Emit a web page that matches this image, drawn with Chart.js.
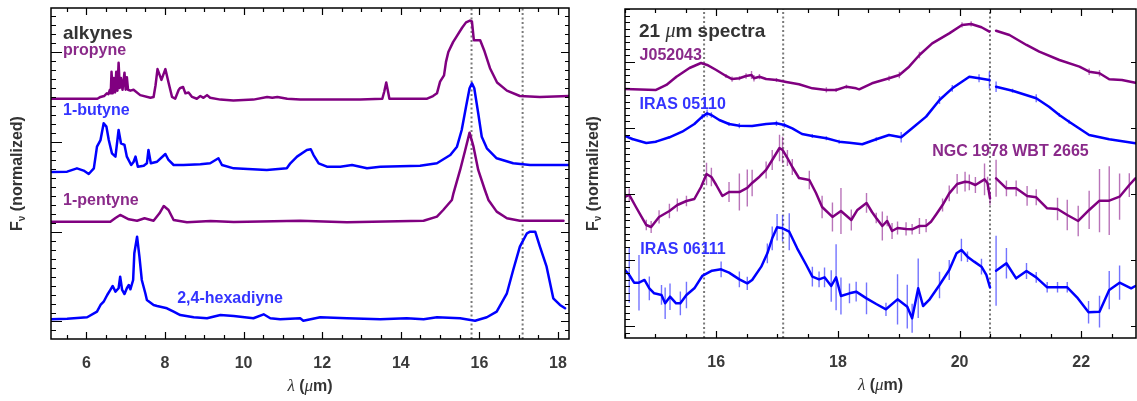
<!DOCTYPE html>
<html>
<head>
<meta charset="utf-8">
<script src="https://cdn.jsdelivr.net/npm/chart.js@4.4.1/dist/chart.umd.min.js"></script>
<style>
  body { margin: 0; background: #fff; }
  #wrap { position: relative; width: 1137px; height: 401px; overflow: hidden; }
  #wrap canvas { position: absolute; top: 0; }
</style>
</head>
<body>
<div id="wrap">
  <canvas id="alkynesChart" width="575" height="401" style="left:0"></canvas>
  <canvas id="spectraChart" width="562" height="401" style="left:575px"></canvas>
</div>
<script>
// ---- left panel: lab spectra, [wavelength um, normalized flux + offset]
const propyne = [[5.10,2.48],[6.28,2.48],[6.36,2.50],[6.45,2.51],[6.52,2.54],[6.56,2.53],[6.60,2.58],[6.62,2.54],
  [6.64,2.78],[6.67,2.54],[6.70,2.71],[6.73,2.55],[6.76,2.78],[6.79,2.57],[6.82,2.88],[6.85,2.60],[6.88,2.71],
  [6.92,2.58],[6.97,2.77],[7.00,2.58],[7.03,2.72],[7.06,2.58],[7.12,2.57],[7.20,2.58],[7.37,2.52],[7.63,2.49],
  [7.71,2.50],[7.76,2.63],[7.81,2.81],[7.91,2.69],[8.01,2.81],[8.09,2.66],[8.18,2.50],[8.26,2.48],[8.35,2.58],
  [8.39,2.60],[8.46,2.61],[8.52,2.54],[8.60,2.55],[8.69,2.50],[8.81,2.48],[8.90,2.51],[8.98,2.49],[9.07,2.52],
  [9.15,2.49],[9.41,2.47],[9.74,2.46],[10.25,2.47],[10.60,2.50],[10.73,2.49],[10.86,2.50],[11.11,2.48],[11.44,2.47],
  [12.20,2.47],[12.97,2.47],[13.53,2.48],[13.58,2.56],[13.63,2.66],[13.68,2.55],[13.71,2.48],[13.98,2.48],[14.67,2.48],
  [14.82,2.51],[14.92,2.54],[15.00,2.67],[15.10,2.74],[15.15,2.89],[15.21,3.00],[15.33,3.11],[15.43,3.18],[15.56,3.27],
  [15.66,3.33],[15.76,3.35],[15.81,3.34],[15.86,3.13],[16.02,3.13],[16.12,3.02],[16.27,2.82],[16.45,2.66],[16.70,2.57],
  [17.03,2.51],[17.54,2.50],[18.28,2.51]];

const butyne = [[5.10,1.664],[5.51,1.668],[5.76,1.705],[5.93,1.68],[6.06,1.642],[6.19,1.705],[6.27,1.946],[6.36,2.02],
  [6.44,2.206],[6.51,2.169],[6.57,2.02],[6.65,1.872],[6.74,1.835],[6.82,2.132],[6.88,1.984],[6.97,1.965],[7.03,1.835],
  [7.14,1.742],[7.20,1.776],[7.25,1.835],[7.31,1.723],[7.46,1.734],[7.54,1.761],[7.58,1.909],[7.64,1.761],[7.80,1.779],
  [8.01,1.865],[8.09,1.798],[8.22,1.742],[8.47,1.742],[8.90,1.75],[9.15,1.761],[9.36,1.817],[9.45,1.742],[9.75,1.705],
  [10.59,1.687],[11.10,1.705],[11.19,1.761],[11.36,1.835],[11.61,1.909],[11.71,1.917],[11.78,1.853],[11.91,1.761],
  [12.12,1.723],[12.46,1.723],[12.76,1.742],[13.14,1.705],[13.48,1.723],[14.49,1.734],[14.92,1.761],[15.26,1.853],
  [15.43,1.946],[15.55,2.132],[15.66,2.391],[15.75,2.596],[15.81,2.652],[15.87,2.596],[15.97,2.318],[16.06,2.057],
  [16.19,1.928],[16.44,1.817],[16.86,1.761],[17.29,1.742],[18.29,1.742]];

const pentyne = [[5.10,1.111],[6.61,1.111],[6.74,1.152],[6.86,1.186],[7.08,1.138],[7.29,1.122],[7.48,1.149],[7.71,1.122],
  [7.86,1.204],[7.97,1.286],[8.09,1.241],[8.22,1.13],[8.56,1.104],[9.16,1.119],[9.75,1.108],[11.44,1.122],[12.63,1.104],
  [14.58,1.122],[14.92,1.167],[15.08,1.241],[15.30,1.353],[15.34,1.427],[15.51,1.687],[15.64,1.909],[15.75,2.102],
  [15.85,1.946],[15.97,1.687],[16.14,1.464],[16.23,1.353],[16.44,1.223],[16.70,1.149],[17.03,1.122],[18.14,1.122]];

const hexadiyne = [[5.10,0.024],[5.51,0.031],[6.02,0.047],[6.27,0.109],[6.36,0.184],[6.44,0.22],[6.53,0.295],[6.61,0.351],
  [6.67,0.395],[6.74,0.332],[6.82,0.37],[6.86,0.499],[6.91,0.351],[6.97,0.306],[7.03,0.37],[7.08,0.406],[7.12,0.358],
  [7.19,0.462],[7.22,0.759],[7.29,0.944],[7.35,0.721],[7.41,0.462],[7.50,0.314],[7.54,0.239],[7.71,0.184],[7.80,0.173],
  [8.05,0.147],[8.22,0.109],[8.39,0.072],[8.73,0.047],[9.07,0.036],[9.41,0.072],[9.75,0.061],[10.25,0.036],[10.51,0.08],
  [10.68,0.036],[10.93,0.024],[11.44,0.036],[11.52,0.009],[11.95,0.047],[12.63,0.036],[13.48,0.024],[14.15,0.036],
  [14.58,0.024],[14.92,0.047],[15.51,0.036],[15.89,0.009],[16.19,0.047],[16.44,0.109],[16.70,0.314],[16.86,0.573],
  [17.03,0.833],[17.21,0.982],[17.29,1.0],[17.42,1.0],[17.54,0.833],[17.71,0.61],[17.88,0.258],[18.05,0.184],[18.18,0.147]];

// ---- right panel: observed spectra, [wavelength um, flux + offset, error]
const j052043 = [[14.50,3.591,0],[15.01,3.576,0],[15.18,3.652,0],[15.34,3.773,0.02],[15.56,3.909,0],[15.75,3.985,0],
  [15.85,3.955,0],[16.00,3.879,0],[16.16,3.788,0.03],[16.26,3.742,0.04],[16.38,3.753,0.03],[16.49,3.788,0.04],
  [16.58,3.803,0.06],[16.62,3.753,0.05],[16.71,3.777,0.04],[16.82,3.742,0],[16.99,3.727,0.03],[17.15,3.697,0],
  [17.36,3.662,0],[17.58,3.601,0],[17.81,3.576,0.04],[17.97,3.576,0.03],[18.14,3.626,0.03],[18.30,3.601,0],
  [18.35,3.586,0],[18.56,3.677,0],[18.84,3.753,0.04],[19.01,3.803,0.05],[19.17,3.929,0],[19.34,4.106,0.05],
  [19.55,4.283,0],[19.83,4.434,0],[20.04,4.561,0.04],[20.19,4.576,0.04],[20.36,4.526,0],[20.49,4.459,0],[20.55,null,0],
  [20.60,4.474,0],[20.82,4.409,0],[21.10,4.258,0],[21.31,4.156,0],[21.64,4.03,0],[21.97,3.929,0],[22.13,3.853,0.05],
  [22.30,3.829,0.05],[22.46,3.738,0],[22.67,3.727,0],[22.89,3.686,0]];

const iras05110 = [[14.50,2.879,0],[14.62,2.833,0.02],[14.85,2.773,0],[15.01,2.793,0.02],[15.23,2.859,0.02],[15.44,2.944,0],
  [15.64,3.061,0],[15.77,3.172,0.04],[15.85,3.222,0.06],[15.92,3.197,0.04],[16.05,3.121,0],[16.21,3.061,0.03],
  [16.38,3.035,0.04],[16.59,3.03,0],[16.82,3.061,0],[16.99,3.071,0.04],[17.12,3.045,0.04],[17.25,2.995,0],[17.41,2.909,0],
  [17.58,2.879,0.03],[17.81,2.844,0.03],[18.02,2.793,0.03],[18.19,2.778,0],[18.40,2.753,0],[18.63,2.829,0.03],
  [18.84,2.894,0],[19.04,2.859,0.08],[19.22,2.995,0],[19.45,3.172,0],[19.67,3.424,0.06],[19.88,3.601,0.05],
  [20.16,3.777,0],[20.32,3.753,0.06],[20.49,3.727,0.13],[20.55,null,0],[20.60,3.626,0.08],[20.87,3.565,0.03],
  [21.26,3.45,0.06],[21.47,3.323,0],[21.64,3.197,0.03],[21.80,3.095,0.03],[22.13,2.894,0],[22.46,2.829,0],[22.89,2.768,0]];

const ngc1978 = [[14.50,1.955,0.08],[14.57,1.985,0.1],[14.68,1.803,0],[14.85,1.53,0.08],[14.93,1.5,0.09],[15.06,1.652,0.1],
  [15.23,1.742,0.11],[15.36,1.833,0.1],[15.51,1.894,0.08],[15.64,1.924,0],[15.75,2.106,0],[15.84,2.303,0.17],
  [15.92,2.258,0.14],[16.00,2.136,0],[16.10,1.97,0],[16.21,2.03,0.15],[16.38,2.03,0.28],[16.51,2.091,0.28],
  [16.59,2.167,0.2],[16.71,2.262,0],[16.82,2.364,0.13],[16.92,2.515,0.15],[17.04,2.697,0.2],[17.09,2.667,0.2],
  [17.17,2.545,0.12],[17.25,2.409,0.12],[17.36,2.242,0],[17.53,2.212,0.14],[17.64,2.015,0],[17.74,1.803,0.17],
  [17.91,1.652,0.22],[18.05,1.742,0.35],[18.22,1.606,0.16],[18.32,1.758,0],[18.47,1.864,0.15],[18.56,1.727,0],
  [18.63,1.636,0.08],[18.73,1.515,0.22],[18.81,1.591,0.08],[18.89,1.439,0.12],[18.98,1.485,0.1],[19.12,1.47,0.1],
  [19.22,1.465,0.08],[19.34,1.515,0.12],[19.45,1.52,0.1],[19.53,1.58,0],[19.62,1.697,0],[19.72,1.833,0.1],
  [19.83,2.01,0.12],[19.96,2.152,0.15],[20.09,2.186,0.15],[20.16,2.177,0.12],[20.26,2.136,0.12],[20.41,2.222,0.24],
  [20.46,2.162,0.1],[20.50,1.935,0.1],[20.55,null,0],[20.60,2.237,0.28],[20.77,2.086,0.12],[20.93,2.086,0.12],
  [21.11,1.97,0.15],[21.26,1.95,0.12],[21.44,1.783,0],[21.61,1.773,0.17],[21.77,1.682,0.23],[21.95,1.591,0.23],
  [22.13,1.758,0.29],[22.30,1.899,0.48],[22.46,1.899,0.52],[22.63,1.959,0.35],[22.79,2.136,0.18],[22.89,2.237,0]];

const iras06111 = [[14.50,0.848,0],[14.57,0.773,0.42],[14.65,0.656,0],[14.73,0.656,0.42],[14.82,0.697,0],[14.90,0.571,0.18],
  [14.98,0.495,0],[15.10,0.47,0.15],[15.16,0.344,0.24],[15.24,0.444,0.2],[15.34,0.344,0],[15.41,0.344,0.18],
  [15.51,0.47,0.2],[15.64,0.571,0],[15.77,0.758,0],[15.93,0.838,0],[16.08,0.859,0.12],[16.21,0.808,0],[16.38,0.707,0.12],
  [16.51,0.646,0.1],[16.59,0.697,0],[16.74,0.899,0],[16.84,1.101,0.15],[16.92,1.328,0.18],[17.00,1.495,0.2],
  [17.09,1.48,0.2],[17.20,1.429,0.28],[17.33,1.177,0],[17.48,0.924,0],[17.58,0.747,0.15],[17.69,0.707,0.12],
  [17.78,0.737,0.15],[17.89,0.606,0.24],[17.97,0.737,0.5],[18.05,0.455,0.28],[18.19,0.495,0.15],[18.30,0.52,0.15],
  [18.47,0.419,0.24],[18.63,0.333,0],[18.79,0.253,0.1],[18.98,0.404,0.38],[19.14,0.293,0.33],[19.22,0.116,0.22],
  [19.32,0.571,0.45],[19.40,0.303,0],[19.50,0.394,0],[19.67,0.621,0.2],[19.83,0.848,0.15],[19.95,1.101,0],
  [20.03,1.152,0.17],[20.13,1.05,0.08],[20.24,0.975,0],[20.36,0.899,0.12],[20.44,0.773,0],[20.50,0.586,0],[20.55,null,0],
  [20.60,0.838,0.53],[20.77,0.95,0.23],[20.93,0.722,0],[21.10,0.833,0.12],[21.26,0.737,0.08],[21.44,0.586,0.08],
  [21.61,0.586,0.08],[21.77,0.586,0.08],[21.93,0.434,0],[22.12,0.207,0.17],[22.30,0.217,0.24],[22.46,0.545,0.29],
  [22.63,0.656,0.26],[22.82,0.571,0],[22.89,0.606,0]];

// names and axis labels
const leftNames = ['propyne', '1-butyne', '1-pentyne', '2,4-hexadiyne'];
const rightNames = ['J052043', 'IRAS 05110', 'NGC 1978 WBT 2665', 'IRAS 06111'];
const leftTickLabels = [6, 8, 10, 12, 14, 16, 18];
const rightTickLabels = [16, 18, 20, 22];
const leftMarkers = [15.8, 17.1];
const rightMarkers = [15.8, 17.1, 20.5];

const PURPLE = '#800080';
const BLUE = '#0000ff';
const PURPLE_TXT = '#8a2a8a';
const BLUE_TXT = '#3434ff';
const SANS = '"Liberation Sans", Arial, Helvetica, sans-serif';
const SERIF = '"Liberation Serif", "Times New Roman", serif';

function isMultiple(v, step) {
    return Math.abs(v / step - Math.round(v / step)) < 1e-6;
}

// draws a list of {t, font, dy} pieces one after another
function drawRich(ctx, segs, x, y, align) {
    let total = 0;
    segs.forEach((s) => { ctx.font = s.font; s.w = ctx.measureText(s.t).width; total += s.w; });
    let cx = align === 'center' ? x - total / 2 : x;
    ctx.textAlign = 'left';
    segs.forEach((s) => {
        ctx.font = s.font;
        ctx.fillText(s.t, cx, y + (s.dy || 0));
        cx += s.w;
    });
}

function lambdaTitle() {
    return [
        {t: 'λ', font: 'italic 17px ' + SERIF},
        {t: ' (', font: 'bold 16px ' + SANS},
        {t: 'μ', font: 'italic 17px ' + SERIF},
        {t: 'm)', font: 'bold 16px ' + SANS},
    ];
}

function fluxTitle() {
    return [
        {t: 'F', font: 'bold 16px ' + SANS},
        {t: 'ν', font: 'bold 10px ' + SANS, dy: 3},
        {t: ' (normalized)', font: 'bold 16px ' + SANS},
    ];
}

// frame, inward ticks, tick labels, axis titles and text notes
const framePlugin = {
    id: 'frame',
    afterDatasetsDraw(chart, args, o) {
        const ctx = chart.ctx;
        const a = chart.chartArea;
        const xs = chart.scales.x;
        const ys = chart.scales.y;
        ctx.save();
        ctx.strokeStyle = '#000';
        ctx.lineWidth = 1.2;
        ctx.beginPath();
        for (let i = Math.ceil(xs.min / o.xStep - 1e-6); i * o.xStep <= xs.max + 1e-6; i++) {
            const v = i * o.xStep;
            const px = Math.round(xs.getPixelForValue(v)) + 0.5;
            const len = isMultiple(v, o.xMajor) ? o.xMajorLen : o.xMinorLen;
            ctx.moveTo(px, a.bottom); ctx.lineTo(px, a.bottom - len);
            ctx.moveTo(px, a.top); ctx.lineTo(px, a.top + len);
        }
        for (let i = Math.ceil(ys.min / o.yStep - 1e-6); i * o.yStep <= ys.max + 1e-6; i++) {
            const v = i * o.yStep;
            const py = Math.round(ys.getPixelForValue(v)) + 0.5;
            const major = isMultiple(v, 1);
            ctx.moveTo(a.left, py); ctx.lineTo(a.left + (major ? o.yMajorLen : o.yMinorLen), py);
            if (major || o.rightMinor) {
                ctx.moveTo(a.right, py); ctx.lineTo(a.right - (major ? o.rightMajorLen : o.rightMinorLen), py);
            }
        }
        ctx.stroke();
        ctx.lineWidth = 1.5;
        ctx.strokeRect(a.left, a.top, a.right - a.left, a.bottom - a.top);

        // tick labels
        ctx.fillStyle = '#3a3a3a';
        ctx.font = 'bold 16px ' + SANS;
        ctx.textAlign = 'center';
        ctx.textBaseline = 'alphabetic';
        o.tickLabels.forEach((v) => ctx.fillText(String(v), xs.getPixelForValue(v), a.bottom + 29));

        // axis titles
        ctx.fillStyle = '#333';
        drawRich(ctx, lambdaTitle(), (a.left + a.right) / 2, a.bottom + 52, 'center');
        ctx.save();
        ctx.translate(o.yTitleX, (a.top + a.bottom) / 2);
        ctx.rotate(-Math.PI / 2);
        drawRich(ctx, fluxTitle(), 0, 0, 'center');
        ctx.restore();

        // notes inside the frame
        o.notes.forEach((n) => {
            ctx.fillStyle = n.color;
            drawRich(ctx, n.segs, xs.getPixelForValue(n.x), ys.getPixelForValue(n.y), 'left');
        });
        ctx.restore();
    }
};

function curveData(series) {
    return series.map((p) => ({x: p[0], y: p[1]}));
}

function errorBarData(series) {
    let pts = [];
    series.forEach((p) => {
        if (p[1] === null || !p[2]) return;
        pts.push({x: p[0], y: p[1] - p[2]}, {x: p[0], y: p[1] + p[2]}, {x: p[0], y: null});
    });
    return pts;
}

function drawChart(canvasId, cfg) {
    let ctx = document.getElementById(canvasId).getContext('2d');
    let datasets = [];

    cfg.series.forEach((s) => {
        datasets.push({
            data: curveData(s.data), borderColor: s.color, borderWidth: 2.5,
            pointRadius: 0, tension: 0, spanGaps: false, order: 0,
            borderJoinStyle: 'round', borderCapStyle: 'round',
        });
        if (s.errColor) {
            datasets.push({
                data: errorBarData(s.data), borderColor: s.errColor, borderWidth: 1.4,
                pointRadius: 0, spanGaps: false, order: 1,
            });
        }
    });
    // dotted reference wavelengths
    cfg.markers.forEach((m) => {
        datasets.push({
            data: [{x: m, y: cfg.yMin}, {x: m, y: cfg.yMax}],
            borderColor: '#7a7a7a', borderWidth: 2, borderDash: [2, 2.5],
            pointRadius: 0, order: 2,
        });
    });

    let chart_options = {
        responsive: false,
        animation: false,
        events: [],
        layout: {padding: cfg.padding},
        scales: {
            x: {type: 'linear', display: false, min: cfg.xMin, max: cfg.xMax},
            y: {type: 'linear', display: false, min: cfg.yMin, max: cfg.yMax},
        },
        plugins: {
            legend: {display: false},
            tooltip: {enabled: false},
            frame: cfg.frame,
        },
    };

    return new Chart(ctx, {type: 'line', data: {datasets: datasets}, options: chart_options, plugins: [framePlugin]});
}

const lbl = (t, size) => [{t: t, font: 'bold ' + (size || 16) + 'px ' + SANS}];

drawChart('alkynesChart', {
    xMin: 5.1, xMax: 18.28, yMin: -0.195, yMax: 3.49,
    padding: {left: 51, top: 8, right: 6, bottom: 62},
    markers: leftMarkers,
    series: [
        {data: propyne, color: PURPLE},
        {data: butyne, color: BLUE},
        {data: pentyne, color: PURPLE},
        {data: hexadiyne, color: BLUE},
    ],
    frame: {
        xStep: 0.5, xMajor: 2, xMajorLen: 7, xMinorLen: 4,
        yStep: 0.1, yMajorLen: 11, yMinorLen: 5, rightMinor: true, rightMajorLen: 8, rightMinorLen: 4,
        tickLabels: leftTickLabels, yTitleX: 22,
        notes: [
            {segs: lbl('alkynes', 19), color: '#333', x: 5.405, y: 3.145},
            {segs: lbl(leftNames[0]), color: PURPLE_TXT, x: 5.405, y: 2.967},
            {segs: lbl(leftNames[1]), color: BLUE_TXT, x: 5.405, y: 2.299},
            {segs: lbl(leftNames[2]), color: PURPLE_TXT, x: 5.405, y: 1.297},
            {segs: lbl(leftNames[3]), color: BLUE_TXT, x: 8.31, y: 0.206},
        ],
    },
});

drawChart('spectraChart', {
    xMin: 14.5, xMax: 22.9, yMin: -0.182, yMax: 4.803,
    padding: {left: 50, top: 9, right: 1, bottom: 63},
    markers: rightMarkers,
    series: [
        {data: j052043, color: PURPLE, errColor: 'rgba(128,0,128,0.55)'},
        {data: iras05110, color: BLUE, errColor: 'rgba(0,0,255,0.55)'},
        {data: ngc1978, color: PURPLE, errColor: 'rgba(128,0,128,0.55)'},
        {data: iras06111, color: BLUE, errColor: 'rgba(0,0,255,0.55)'},
    ],
    frame: {
        xStep: 0.5, xMajor: 2, xMajorLen: 7, xMinorLen: 4,
        yStep: 0.1, yMajorLen: 10, yMinorLen: 5, rightMinor: false, rightMajorLen: 5, rightMinorLen: 0,
        tickLabels: rightTickLabels, yTitleX: 23,
        notes: [
            {segs: [{t: '21 ', font: 'bold 19px ' + SANS}, {t: 'μ', font: 'italic 20px ' + SERIF},
                    {t: 'm spectra', font: 'bold 19px ' + SANS}], color: '#333', x: 14.73, y: 4.383},
            {segs: lbl(rightNames[0]), color: PURPLE_TXT, x: 14.74, y: 4.03},
            {segs: lbl(rightNames[1]), color: BLUE_TXT, x: 14.74, y: 3.283},
            {segs: lbl(rightNames[2]), color: PURPLE_TXT, x: 19.55, y: 2.58},
            {segs: lbl(rightNames[3]), color: BLUE_TXT, x: 14.75, y: 1.091},
        ],
    },
});
</script>
</body>
</html>
